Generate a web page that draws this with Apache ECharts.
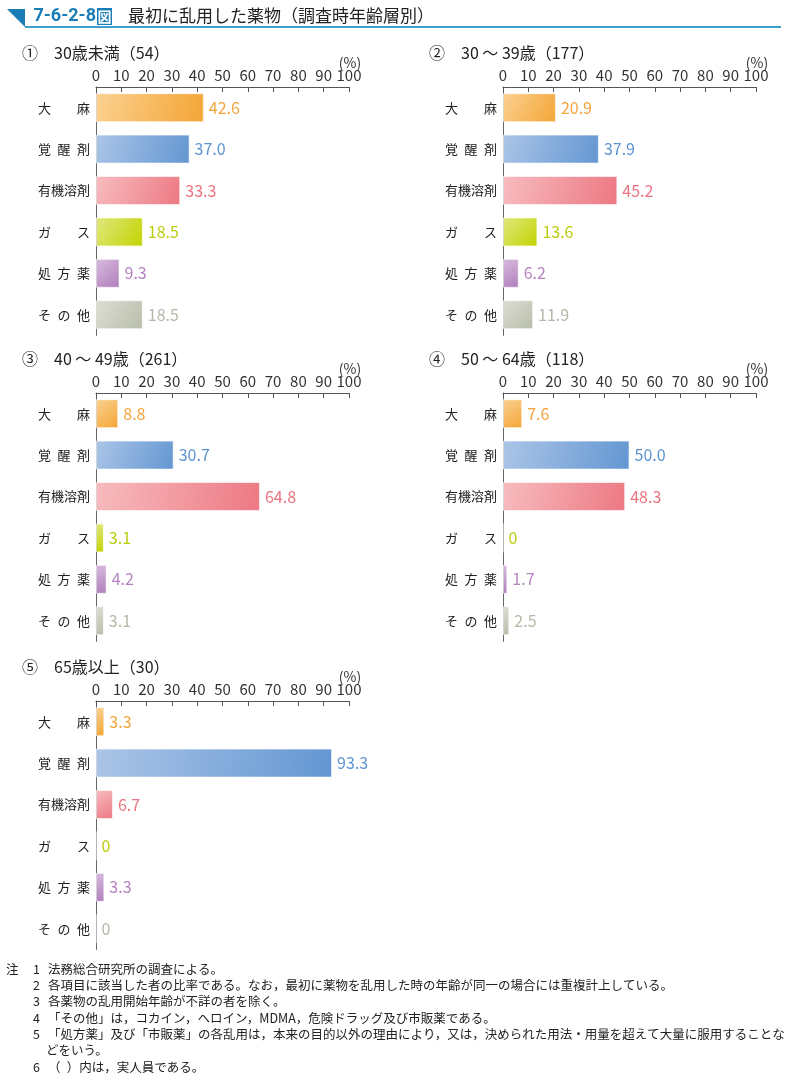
<!DOCTYPE html>
<html>
<head>
<meta charset="utf-8">
<script src="https://cdn.jsdelivr.net/npm/echarts@6/dist/echarts.min.js"></script>
<style>html,body{margin:0;padding:0;background:#fff}#c{width:793px;height:1083px}</style>
</head>
<body>
<div id="c"></div>
<script>
// ---- data ----
var categories = ['大\u3000\u3000麻', '覚\u2002醒\u2002剤', '有機溶剤', 'ガ\u3000\u3000ス', '処\u2002方\u2002薬', 'そ\u2002の\u2002他'];
var panelTitles = ['①\u300030歳未満（54）', '②\u300030 ～ 39歳（177）', '③\u300040 ～ 49歳（261）', '④\u300050 ～ 64歳（118）', '⑤\u300065歳以上（30）'];
var under30 = [42.6, 37.0, 33.3, 18.5, 9.3, 18.5];
var age30to39 = [20.9, 37.9, 45.2, 13.6, 6.2, 11.9];
var age40to49 = [8.8, 30.7, 64.8, 3.1, 4.2, 3.1];
var age50to64 = [7.6, 50.0, 48.3, 0, 1.7, 2.5];
var age65plus = [3.3, 93.3, 6.7, 0, 3.3, 0];
var xTicks = [0, 10, 20, 30, 40, 50, 60, 70, 80, 90, 100];
var notes = [
  ['注', '1', '法務総合研究所の調査による。'],
  ['', '2', '各項目に該当した者の比率である。なお，最初に薬物を乱用した時の年齢が同一の場合には重複計上している。'],
  ['', '3', '各薬物の乱用開始年齢が不詳の者を除く。'],
  ['', '4', '「その他」は，コカイン，ヘロイン，MDMA，危険ドラッグ及び市販薬である。'],
  ['', '5', '「処方薬」及び「市販薬」の各乱用は，本来の目的以外の理由により，又は，決められた用法・用量を超えて大量に服用することな'],
  ['', '', 'どをいう。'],
  ['', '6', '（\u2002）内は，実人員である。']
];

// ---- styles ----
var FONT = '"Noto Sans CJK JP", "Noto Sans", sans-serif';
var barColors = [
  ['#fbd191', '#f4a535'],
  ['#abc5e7', '#6396d2'],
  ['#f7bcbf', '#ed7883'],
  ['#e0e87e', '#c2d300'],
  ['#d8bcdd', '#b07dbd'],
  ['#dcded3', '#b9beab']
];
var labelColors = ['#f3a43c', '#5f94d2', '#ec7480', '#bccc10', '#b583c0', '#b4b8a6'];
var series = [under30, age30to39, age40to49, age50to64, age65plus];
var panelPos = [
  {left: 96, top: 87}, {left: 503, top: 87},
  {left: 96, top: 393}, {left: 503, top: 393},
  {left: 96, top: 701}
];
var GW = 253, GH = 248.4;

var grids = [], xAxes = [], yAxes = [], ser = [], graphics = [];
panelPos.forEach(function (p, i) {
  grids.push({left: p.left, top: p.top, width: GW, height: GH, containLabel: false});
  xAxes.push({
    type: 'value', gridIndex: i, position: 'top', min: xTicks[0], max: xTicks[xTicks.length - 1], interval: 10,
    axisLine: {show: true, lineStyle: {color: '#555', width: 1}},
    axisTick: {show: true, inside: true, length: 5, lineStyle: {color: '#555'}},
    splitLine: {show: false},
    axisLabel: {margin: 4, fontSize: 15, color: '#333', fontFamily: FONT}
  });
  yAxes.push({
    type: 'category', gridIndex: i, data: categories, inverse: true,
    axisLine: {show: true, lineStyle: {color: '#666', width: 1}},
    axisTick: {show: false},
    axisLabel: {margin: 6, fontSize: 13, color: '#222', fontFamily: FONT}
  });
  ser.push({
    type: 'bar', xAxisIndex: i, yAxisIndex: i, barCategoryGap: '30%',
    data: series[i].map(function (v, k) {
      return {
        value: v,
        itemStyle: {
          color: {type: 'linear', x: 0, y: 0, x2: 1, y2: 1, colorStops: [
            {offset: 0, color: barColors[k][0]}, {offset: 1, color: barColors[k][1]}]},
          borderColor: 'rgba(255,255,255,0.6)', borderWidth: 1
        },
        label: {color: labelColors[k]}
      };
    }),
    label: {
      show: true, position: 'right', distance: 5, fontSize: 16, fontFamily: FONT,
      formatter: function (d) { return d.value === 0 ? '0' : d.value.toFixed(1); }
    },
    animation: false
  });
  graphics.push({type: 'text', x: p.left - 74, y: p.top - 34, style: {text: panelTitles[i], fill: '#222', font: '16px ' + FONT, textVerticalAlign: 'middle'}});
  graphics.push({type: 'text', x: p.left + GW + 1, y: p.top - 24, style: {text: '(%)', fill: '#333', font: '14px ' + FONT, textAlign: 'center', textVerticalAlign: 'middle'}});
});

// header
graphics.push({type: 'polygon', shape: {points: [[7, 9], [25, 9], [25, 27]]}, style: {fill: '#1a7db5'}});
graphics.push({type: 'rect', shape: {x: 25, y: 26, width: 756, height: 2}, style: {fill: '#3e9fcb'}});
graphics.push({type: 'text', x: 96, y: 16.5, style: {text: '7-6-2-8', fill: '#1a7db5', font: 'bold 18px Roboto, sans-serif', textAlign: 'right', textVerticalAlign: 'middle'}});
graphics.push({type: 'rect', shape: {x: 97, y: 8, width: 15, height: 17}, style: {fill: '#1a7db5'}});
graphics.push({type: 'text', x: 104.5, y: 16.5, style: {text: '図', fill: '#fff', font: 'bold 14px ' + FONT, textAlign: 'center', textVerticalAlign: 'middle'}});
graphics.push({type: 'text', x: 128, y: 16, style: {text: '最初に乱用した薬物（調査時年齢層別）', fill: '#222', font: '17px ' + FONT, textVerticalAlign: 'middle'}});

// notes
notes.forEach(function (n, i) {
  var y = 969 + i * 16.3;
  if (n[0]) graphics.push({type: 'text', x: 6, y: y, style: {text: n[0], fill: '#222', font: '12.5px ' + FONT, textVerticalAlign: 'middle'}});
  if (n[1]) graphics.push({type: 'text', x: 33, y: y, style: {text: n[1], fill: '#222', font: '12.5px ' + FONT, textVerticalAlign: 'middle'}});
  graphics.push({type: 'text', x: n[1] ? 48 : 46, y: y, style: {text: n[2], fill: '#222', font: '12.5px ' + FONT, textVerticalAlign: 'middle'}});
});

var chart = echarts.init(document.getElementById('c'), null, {renderer: 'canvas'});
chart.setOption({
  backgroundColor: '#fff',
  animation: false,
  grid: grids, xAxis: xAxes, yAxis: yAxes, series: ser,
  graphic: graphics
});
</script>
</body>
</html>
